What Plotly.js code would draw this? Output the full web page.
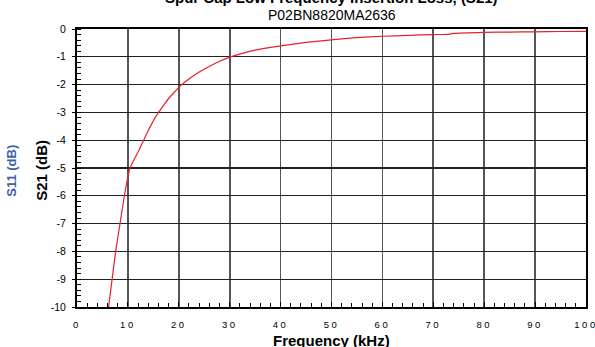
<!DOCTYPE html>
<html>
<head>
<meta charset="utf-8">
<script src="https://cdn.plot.ly/plotly-3.0.1.min.js"></script>
<style>
html,body{margin:0;padding:0;background:#fff;}
#chart{width:595px;height:347px;}
.xtick text{letter-spacing:2.5px;}
</style>
</head>
<body>
<div id="chart"></div>
<script>
const titleText = "Spur Cap Low Frequency Insertion Loss, (S21)";
const subtitleText = "P02BN8820MA2636";
const xTitle = "Frequency (kHz)";
const yTitle = "S21 (dB)";
const y2Title = "S11 (dB)";

const freqKHz = [6.2, 6.9, 7.6, 8.45, 9.3, 9.8, 10.4, 11.2, 12.2, 13.1, 14, 15, 16, 17, 18, 19, 20, 22, 24, 27, 30, 33, 35, 38, 40, 45, 50, 55, 60, 65, 70, 73, 74, 80, 85, 90, 95, 100];
const s21dB   = [-10, -9, -8, -7, -6, -5.5, -5.0, -4.7, -4.35, -4.0, -3.65, -3.3, -3.0, -2.75, -2.5, -2.3, -2.1, -1.8, -1.55, -1.25, -1.01, -0.85, -0.76, -0.66, -0.61, -0.48, -0.39, -0.31, -0.26, -0.23, -0.20, -0.19, -0.16, -0.12, -0.11, -0.10, -0.09, -0.085];

const xTickVals = [0,10,20,30,40,50,60,70,80,90,100];
const yTickVals = [0,-1,-2,-3,-4,-5,-6,-7,-8,-9,-10];

const FONT = '"Liberation Sans", Arial, sans-serif';

const trace = {
  x: freqKHz, y: s21dB, type: 'scatter', mode: 'lines',
  line: {color: '#e8212a', width: 1.2, shape: 'spline', smoothing: 0.3},
  hoverinfo: 'none'
};

const layout = {
  width: 595, height: 347,
  margin: {l: 77, r: 9, t: 29, b: 40},
  paper_bgcolor: '#fff', plot_bgcolor: '#fff',
  showlegend: false,
  font: {family: FONT, color: '#000'},
  xaxis: {
    range: [0, 100], tickvals: xTickVals, ticktext: xTickVals.map(String),
    showgrid: true, gridcolor: '#555', gridwidth: 1.6,
    showline: true, linecolor: '#000', linewidth: 2, mirror: true,
    ticks: 'inside', ticklen: 5, tickcolor: '#000', tickwidth: 1,
    minor: {dtick: 2, ticks: 'inside', ticklen: 4, tickcolor: '#000', tickwidth: 1, showgrid: false},
    tickfont: {size: 9.5, family: FONT, color: '#000'},
    ticklabelstandoff: 8,
    ticklabeloverflow: 'allow',
    zeroline: false, fixedrange: true
  },
  yaxis: {
    range: [-10, 0], tickvals: yTickVals, ticktext: yTickVals.map(String),
    showgrid: true, gridcolor: '#222', gridwidth: 1.2,
    showline: true, linecolor: '#000', linewidth: 2, mirror: true,
    ticks: 'outside', ticklen: 3, tickcolor: '#000', tickwidth: 1,
    minor: {dtick: 0.2, ticks: 'inside', ticklen: 4, tickcolor: '#000', tickwidth: 1, showgrid: false},
    tickfont: {size: 10.5, family: FONT, color: '#000'},
    ticklabelstandoff: 4,
    ticklabeloverflow: 'allow',
    zeroline: false, fixedrange: true
  },
  annotations: [
    {text: '<b>' + titleText + '</b>', xref: 'paper', yref: 'paper', x: 0.5, y: 1, yshift: 32,
     xanchor: 'center', yanchor: 'middle', showarrow: false, font: {family: FONT, size: 15, color: '#000'}},
    {text: subtitleText, xref: 'paper', yref: 'paper', x: 0.5, y: 1, yshift: 14,
     xanchor: 'center', yanchor: 'middle', showarrow: false, font: {family: FONT, size: 14, color: '#000'}},
    {text: '<b>' + xTitle + '</b>', xref: 'paper', yref: 'paper', x: 0.5, y: 0, yshift: -33,
     xanchor: 'center', yanchor: 'middle', showarrow: false, font: {family: FONT, size: 15, color: '#000'}},
    {text: '<b>' + yTitle + '</b>', xref: 'paper', yref: 'paper', x: 0, xshift: -35, y: 0.49,
     xanchor: 'center', yanchor: 'middle', textangle: -90, showarrow: false, font: {family: FONT, size: 15, color: '#000'}},
    {text: '<b>' + y2Title + '</b>', xref: 'paper', yref: 'paper', x: 0, xshift: -65, y: 0.49,
     xanchor: 'center', yanchor: 'middle', textangle: -90, showarrow: false, font: {family: FONT, size: 13, color: '#3f5fa8'}}
  ]
};

Plotly.newPlot('chart', [trace], layout, {displayModeBar: false, staticPlot: true});
</script>
</body>
</html>
